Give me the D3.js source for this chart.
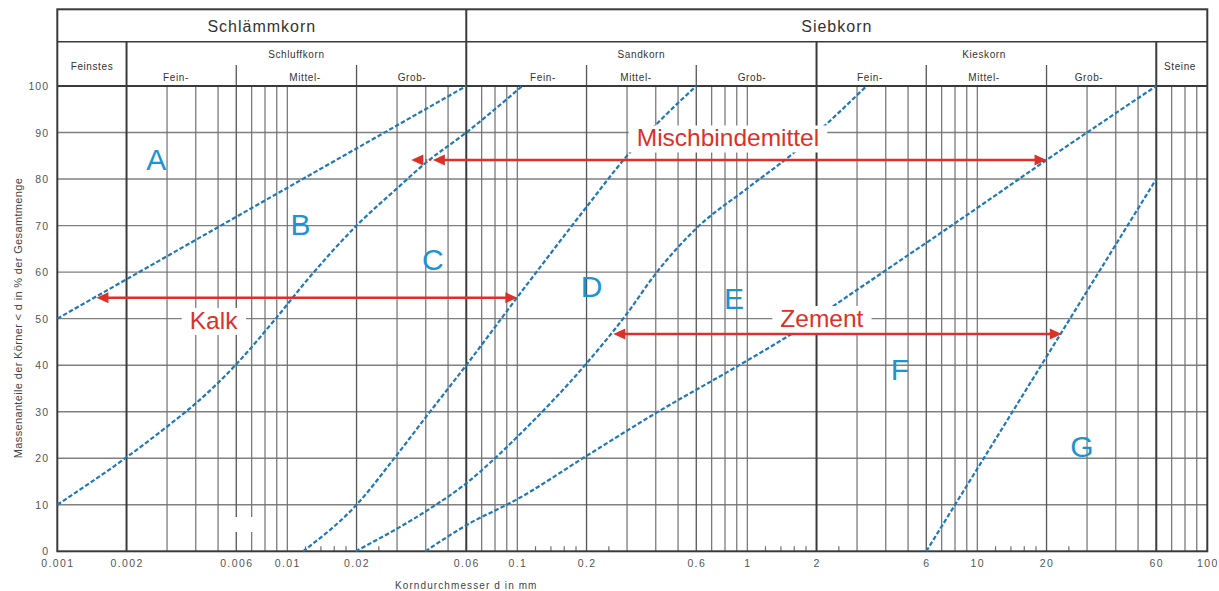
<!DOCTYPE html>
<html><head><meta charset="utf-8">
<script src="https://cdn.jsdelivr.net/npm/d3@7"></script>
<style>
body{margin:0;background:#fff}
svg{display:block;font-family:"Liberation Sans",Arial,Helvetica,sans-serif}
</style></head><body>
<svg id="chart" width="1219" height="591"></svg>
<script>
// ---- Körnungslinien: Korndurchmesser d [mm] / Massenanteil [%] ----
const xTickValues = [0.001,0.002,0.006,0.01,0.02,0.06,0.1,0.2,0.6,1,2,6,10,20,60,100];
const xTickLabels = ["0.001","0.002","0.006","0.01","0.02","0.06","0.1","0.2","0.6","1","2","6","10","20","60","100"];
const yTickValues = [0,10,20,30,40,50,60,70,80,90,100];

const gridLines = [0.003,0.004,0.005,0.007,0.008,0.009,0.01,0.03,0.04,0.05,
                   0.07,0.08,0.09,0.1,0.3,0.4,0.5,0.7,0.8,0.9,1,
                   3,4,5,7,8,9,10,30,40,50,70,80,90];
const gridDividers = [0.006,0.02,0.2,0.6,6,20];
const gridBounds = [0.002,0.06,2,60];
const minorTicks = [0.012,0.014,0.016,0.018,0.025,0.12,0.14,0.16,0.18,0.25,
                    1.2,1.4,1.6,1.8,2.5,12,14,16,18,25];

const curveA = [[0.001,50],[0.06,100]];
const curveB = [[0.001,10],[0.002,20.2],[0.003,26.8],[0.004,31.8],[0.005,36.2],[0.006,40.2],
                [0.0089,50],[0.0122,58.3],[0.02,70],[0.03,78],[0.04,83.5],
                [0.06,90],[0.105,100]];
const curveC = [[0.0117,0],[0.02,10],[0.0295,20.3],[0.0404,29.1],[0.06,40],[0.1,54.6],
                [0.2,74],[0.3,85],[0.42,92.7],[0.6,100]];
const curveD = [[0.0198,0],[0.043,9.6],[0.06,14.6],[0.08,20],[0.1,24.6],[0.2,40.4],
                [0.3,51.1],[0.4,59.7],[0.6,69.4],[1,78],[1.58,85.5],[3.3,100]];
const curveE = [[0.0398,0],[0.06,5.6],[0.1,11.2],[0.2,20.5],[0.4,29.7],[0.9,39.7],
                [1.58,46.9],[3,56.2],[6,66.3],[10,73.8],[20,84.1],[60,100]];
const curveF = [[6,0],[60,80]];
const curves = [curveA,curveB,curveC,curveD,curveE,curveF];

// Bereichsbuchstaben [d, %]
const zoneNames = ["A","B","C","D","E","F","G"];
const zonePos = [[0.00269,84.3],[0.0114,70.3],[0.0429,62.8],[0.2106,57],[0.875,54.4],[4.61,39.2],[28.5,22.6]];

// Bindemittel-Pfeile
const arrowNames = ["Kalk","Mischbindemittel","Zement"];
const arrowLevel = [54.5,84.1,46.7];
const arrowFrom = [0.00148,0.0346,0.2615];
const arrowTo = [0.1,20,23.3];
const arrowLabelAt = [[0.00478,47.8],[0.824,87],[2.11,48.2]];

// Kopfzeile
const headMain = [["Schlämmkorn",0.001,0.06],["Siebkorn",0.06,100]];
const headGroup = [["Schluffkorn",0.01095],["Sandkorn",0.3464],["Kieskorn",10.7]];
const headSide = [["Feinstes",0.001415],["Steine",76.1]];
const headSub = [["Fein-",0.00328],["Mittel-",0.01194],["Grob-",0.03485],
                 ["Fein-",0.1293],["Mittel-",0.328],["Grob-",1.048],
                 ["Fein-",3.416],["Mittel-",10.7],["Grob-",30.6]];

const svg = d3.select("#chart");
const x = d3.scaleLog().domain([0.001,100]).range([57.3,1207.3]);
const y = d3.scaleLinear().domain([0,100]).range([551.3,86]);
const yTop = 9.3, yRow = 41.7, ySub = 65;

const dark = "#3a3a3a", grid = "#707070";

// horizontal grid
svg.append("g").selectAll("line").data(yTickValues.slice(1,-1)).join("line")
  .attr("x1",x(0.001)).attr("x2",x(100)).attr("y1",d=>y(d)).attr("y2",d=>y(d))
  .attr("stroke","#808080").attr("stroke-width",1.4);

// vertical grid
svg.append("g").selectAll("line").data(gridLines).join("line")
  .attr("x1",d=>x(d)).attr("x2",d=>x(d)).attr("y1",y(100)).attr("y2",y(0))
  .attr("stroke",grid).attr("stroke-width",1.2);
svg.append("g").selectAll("line").data(gridDividers).join("line")
  .attr("x1",d=>x(d)).attr("x2",d=>x(d)).attr("y1",ySub).attr("y2",y(0))
  .attr("stroke","#555").attr("stroke-width",1.3);
svg.append("g").selectAll("line").data(gridBounds).join("line")
  .attr("x1",d=>x(d)).attr("x2",d=>x(d)).attr("y1",d=>(d===0.06?yTop:yRow)).attr("y2",y(0))
  .attr("stroke",dark).attr("stroke-width",2);
svg.append("g").selectAll("line").data(minorTicks).join("line")
  .attr("x1",d=>x(d)).attr("x2",d=>x(d)).attr("y1",y(0)-5).attr("y2",y(0))
  .attr("stroke",grid).attr("stroke-width",1.2);

// small gap in the 0.006 / 0.007 lines
svg.append("rect").attr("x",x(0.006)-4).attr("y",517).attr("width",x(0.007)-x(0.006)+8).attr("height",15).attr("fill","#fff");

// frame + header rules
svg.append("rect").attr("x",x(0.001)).attr("y",yTop).attr("width",x(100)-x(0.001)).attr("height",y(0)-yTop)
  .attr("fill","none").attr("stroke",dark).attr("stroke-width",2);
svg.append("line").attr("x1",x(0.001)).attr("x2",x(100)).attr("y1",yRow).attr("y2",yRow).attr("stroke",dark).attr("stroke-width",1.6);
svg.append("line").attr("x1",x(0.001)).attr("x2",x(100)).attr("y1",y(100)).attr("y2",y(100)).attr("stroke",dark).attr("stroke-width",2);

// header text
const hdr = svg.append("g").attr("fill","#333").attr("text-anchor","middle");
hdr.selectAll(".hm").data(headMain).join("text")
  .attr("x",d=>(x(d[1])+x(d[2]))/2).attr("y",32).attr("font-size",16).attr("letter-spacing",1)
  .text(d=>d[0]);
hdr.selectAll(".hg").data(headGroup).join("text")
  .attr("x",d=>x(d[1])).attr("y",58).attr("font-size",10).attr("letter-spacing",0.6).text(d=>d[0]);
hdr.selectAll(".hs").data(headSide).join("text")
  .attr("x",d=>x(d[1])).attr("y",70).attr("font-size",10).attr("letter-spacing",0.6).text(d=>d[0]);
hdr.selectAll(".hsub").data(headSub).join("text")
  .attr("x",d=>x(d[1])).attr("y",81).attr("font-size",10).attr("letter-spacing",0.6).text(d=>d[0]);

// axes (labels only)
const xAxis = d3.axisBottom(x).tickValues(xTickValues).tickSize(0).tickPadding(0)
  .tickFormat((d,i)=>xTickLabels[i]);
const gx = svg.append("g").attr("transform",`translate(0,${y(0)+16})`).call(xAxis);
gx.select(".domain").remove();
gx.selectAll("text").attr("font-size",10.5).attr("fill","#555").attr("letter-spacing",1.4)
  .attr("font-family","Liberation Sans, Arial, sans-serif").attr("dy","0");

const yAxis = d3.axisLeft(y).tickValues(yTickValues).tickSize(0).tickPadding(0);
const gy = svg.append("g").attr("transform","translate(49,0)").call(yAxis);
gy.select(".domain").remove();
gy.selectAll("text").attr("font-size",10.5).attr("fill","#555").attr("letter-spacing",1)
  .attr("font-family","Liberation Sans, Arial, sans-serif").attr("dy","0.35em");

svg.append("text").attr("x",x(0.06)).attr("y",589).attr("text-anchor","middle")
  .attr("font-size",10).attr("letter-spacing",1.1).attr("fill","#444").text("Korndurchmesser d in mm");
svg.append("text").attr("transform",`translate(22,${318}) rotate(-90)`).attr("text-anchor","middle")
  .attr("font-size",11).attr("letter-spacing",0.35).attr("fill","#444")
  .text("Massenanteile der Körner < d in % der Gesamtmenge");

// curves
const line = d3.line().x(d=>x(d[0])).y(d=>y(d[1])).curve(d3.curveMonotoneX);
svg.append("g").selectAll("path").data(curves).join("path")
  .attr("d",line).attr("fill","none").attr("stroke","#1f78b8").attr("stroke-width",2.2)
  .attr("stroke-dasharray","4.5,2.2");

// zone letters
svg.append("g").selectAll("text").data(zoneNames).join("text")
  .attr("x",(d,i)=>x(zonePos[i][0])).attr("y",(d,i)=>y(zonePos[i][1]))
  .attr("dy","0.36em").attr("text-anchor","middle").attr("font-size",30)
  .attr("fill","#1c94d2").text(d=>d);

// arrows with labels
const red = "#dc3128";
const lab = svg.append("g");
const ar = svg.append("g");
function head(px,py,dir){
  ar.append("path").attr("d",`M${px},${py} L${px-dir*12},${py-5.5} L${px-dir*12},${py+5.5} Z`).attr("fill",red);
}
arrowNames.forEach((n,i)=>{
  const yy = y(arrowLevel[i]);
  const x1 = x(arrowFrom[i]), x2 = x(arrowTo[i]);
  const lx = x(arrowLabelAt[i][0]), ly = y(arrowLabelAt[i][1]);
  const box = lab.append("rect").attr("fill","#fff");
  const t = lab.append("text").attr("x",lx).attr("y",ly).attr("text-anchor","middle")
    .attr("font-size",24.5).attr("fill",red).text(n);
  const bb = t.node().getBBox();
  box.attr("x",bb.x-8).attr("y",bb.y+1).attr("width",bb.width+16).attr("height",bb.height);
  if(n==="Mischbindemittel"){
    const x1b = x1 + 21.6;
    ar.append("line").attr("x1",x1b+10).attr("x2",x2-10).attr("y1",yy).attr("y2",yy).attr("stroke",red).attr("stroke-width",2.6);
    ar.append("line").attr("x1",x1+10).attr("x2",x1b).attr("y1",yy).attr("y2",yy).attr("stroke",red).attr("stroke-width",2).attr("stroke-dasharray","2,2").attr("opacity",0.7);
    head(x1,yy,-1); head(x1b,yy,-1); head(x2,yy,1);
  } else {
    ar.append("line").attr("x1",x1+10).attr("x2",x2-10).attr("y1",yy).attr("y2",yy).attr("stroke",red).attr("stroke-width",2.6);
    head(x1,yy,-1); head(x2,yy,1);
  }
});
</script>
</body></html>
